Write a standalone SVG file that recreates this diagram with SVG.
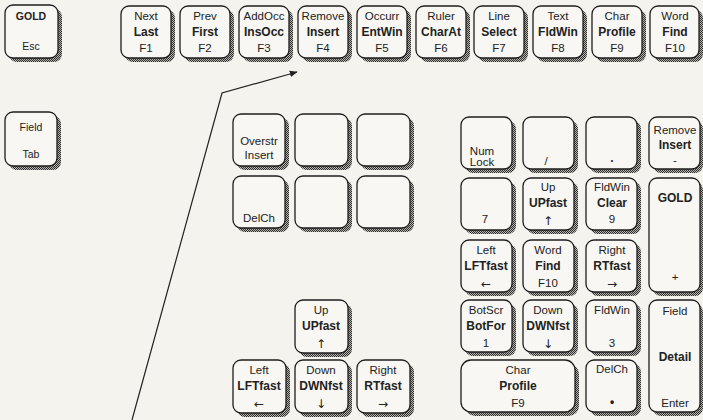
<svg xmlns="http://www.w3.org/2000/svg" width="703" height="420" viewBox="0 0 703 420">
<defs>
<pattern id="dots" width="2" height="2" patternUnits="userSpaceOnUse">
<rect width="2" height="2" fill="#b8b6b0"/>
<rect width="1" height="1" fill="#2e2e2e"/>
<rect x="1" y="1" width="1" height="1" fill="#2e2e2e"/>
</pattern>
<marker id="arr" viewBox="0 0 10 10" refX="9" refY="5" markerWidth="8" markerHeight="8" orient="auto" markerUnits="userSpaceOnUse">
<path d="M0,1 L10,5 L0,9 Z" fill="#222"/>
</marker>
</defs>
<style>
.sh{fill:url(#dots);}
.k{fill:#f8f7f3;stroke:#1e1e1e;stroke-width:1.3;}
text{font-family:"Liberation Sans",Arial,"DejaVu Sans",sans-serif;font-size:11.5px;fill:#222;text-anchor:middle;}
.b{font-weight:bold;font-size:12px;}
.s{font-size:10.5px;}
.ar{font-family:"DejaVu Sans",sans-serif;font-size:12px;}
.ln{fill:none;stroke:#222;stroke-width:1.2;}
</style>
<rect width="703" height="420" fill="#f5f3ee"/>

<!-- left keys -->
<g id="key-gold-esc"><rect class="sh" x="9" y="9" width="53" height="53" rx="8"/><rect class="k" x="5" y="5" width="53" height="53" rx="8"/><text class="b s" x="31" y="20">GOLD</text><text class="s" x="31" y="50">Esc</text></g>
<g id="key-field-tab"><rect class="sh" x="9" y="116" width="52" height="54" rx="8"/><rect class="k" x="5" y="112" width="52" height="54" rx="8"/><text class="s" x="31" y="131">Field</text><text class="s" x="31" y="158">Tab</text></g>

<!-- top row -->
<g id="key-f1"><rect class="sh" x="125" y="10" width="50" height="52" rx="8"/><rect class="k" x="121" y="6" width="50" height="52" rx="8"/><text x="146" y="20">Next</text><text class="b" x="146" y="36">Last</text><text x="146" y="52">F1</text></g>
<g id="key-f2"><rect class="sh" x="184" y="10" width="50" height="52" rx="8"/><rect class="k" x="180" y="6" width="50" height="52" rx="8"/><text x="205" y="20">Prev</text><text class="b" x="205" y="36">First</text><text x="205" y="52">F2</text></g>
<g id="key-f3"><rect class="sh" x="243" y="10" width="50" height="52" rx="8"/><rect class="k" x="239" y="6" width="50" height="52" rx="8"/><text x="264" y="20">AddOcc</text><text class="b" x="264" y="36">InsOcc</text><text x="264" y="52">F3</text></g>
<g id="key-f4"><rect class="sh" x="302" y="10" width="50" height="52" rx="8"/><rect class="k" x="298" y="6" width="50" height="52" rx="8"/><text x="323" y="20">Remove</text><text class="b" x="323" y="36">Insert</text><text x="323" y="52">F4</text></g>
<g id="key-f5"><rect class="sh" x="361" y="10" width="50" height="52" rx="8"/><rect class="k" x="357" y="6" width="50" height="52" rx="8"/><text x="382" y="20">Occurr</text><text class="b" x="382" y="36">EntWin</text><text x="382" y="52">F5</text></g>
<g id="key-f6"><rect class="sh" x="420" y="10" width="50" height="52" rx="8"/><rect class="k" x="416" y="6" width="50" height="52" rx="8"/><text x="441" y="20">Ruler</text><text class="b" x="441" y="36">CharAt</text><text x="441" y="52">F6</text></g>
<g id="key-f7"><rect class="sh" x="478" y="10" width="50" height="52" rx="8"/><rect class="k" x="474" y="6" width="50" height="52" rx="8"/><text x="499" y="20">Line</text><text class="b" x="499" y="36">Select</text><text x="499" y="52">F7</text></g>
<g id="key-f8"><rect class="sh" x="537" y="10" width="50" height="52" rx="8"/><rect class="k" x="533" y="6" width="50" height="52" rx="8"/><text x="558" y="20">Text</text><text class="b" x="558" y="36">FldWin</text><text x="558" y="52">F8</text></g>
<g id="key-f9"><rect class="sh" x="596" y="10" width="50" height="52" rx="8"/><rect class="k" x="592" y="6" width="50" height="52" rx="8"/><text x="617" y="20">Char</text><text class="b" x="617" y="36">Profile</text><text x="617" y="52">F9</text></g>
<g id="key-f10"><rect class="sh" x="654" y="10" width="49" height="52" rx="8"/><rect class="k" x="650" y="6" width="49" height="52" rx="8"/><text x="675" y="20">Word</text><text class="b" x="675" y="36">Find</text><text x="675" y="52">F10</text></g>

<!-- middle block -->
<g id="key-overstr"><rect class="sh" x="237" y="118" width="52" height="52" rx="8"/><rect class="k" x="233" y="114" width="52" height="52" rx="8"/><text x="259" y="145">Overstr</text><text x="259" y="159">Insert</text></g>
<g id="key-blank1"><rect class="sh" x="299" y="118" width="53" height="52" rx="8"/><rect class="k" x="295" y="114" width="53" height="52" rx="8"/></g>
<g id="key-blank2"><rect class="sh" x="361" y="118" width="53" height="52" rx="8"/><rect class="k" x="357" y="114" width="53" height="52" rx="8"/></g>
<g id="key-delch"><rect class="sh" x="237" y="180" width="52" height="52" rx="8"/><rect class="k" x="233" y="176" width="52" height="52" rx="8"/><text x="259" y="222">DelCh</text></g>
<g id="key-blank3"><rect class="sh" x="299" y="180" width="53" height="52" rx="8"/><rect class="k" x="295" y="176" width="53" height="52" rx="8"/></g>
<g id="key-blank4"><rect class="sh" x="361" y="180" width="53" height="52" rx="8"/><rect class="k" x="357" y="176" width="53" height="52" rx="8"/></g>

<!-- arrow cluster -->
<g id="key-up"><rect class="sh" x="299" y="304" width="53" height="53" rx="8"/><rect class="k" x="295" y="300" width="53" height="53" rx="8"/><text x="321" y="314">Up</text><text class="b" x="321" y="330">UPfast</text><text class="ar" x="321" y="348">↑</text></g>
<g id="key-left"><rect class="sh" x="237" y="364" width="53" height="53" rx="8"/><rect class="k" x="233" y="360" width="53" height="53" rx="8"/><text x="259" y="374">Left</text><text class="b" x="259" y="390">LFTfast</text><text class="ar" x="259" y="408">←</text></g>
<g id="key-down"><rect class="sh" x="299" y="364" width="53" height="53" rx="8"/><rect class="k" x="295" y="360" width="53" height="53" rx="8"/><text x="321" y="374">Down</text><text class="b" x="321" y="390">DWNfst</text><text class="ar" x="321" y="408">↓</text></g>
<g id="key-right"><rect class="sh" x="361" y="364" width="53" height="53" rx="8"/><rect class="k" x="357" y="360" width="53" height="53" rx="8"/><text x="383" y="374">Right</text><text class="b" x="383" y="390">RTfast</text><text class="ar" x="383" y="408">→</text></g>

<!-- keypad -->
<g id="key-numlock"><rect class="sh" x="465" y="121" width="51" height="52" rx="8"/><rect class="k" x="461" y="117" width="51" height="52" rx="8"/><text x="482" y="155">Num</text><text x="482" y="166">Lock</text></g>
<g id="key-slash"><rect class="sh" x="527" y="121" width="51" height="52" rx="8"/><rect class="k" x="523" y="117" width="51" height="52" rx="8"/><text x="546" y="165">/</text></g>
<g id="key-dot"><rect class="sh" x="590" y="121" width="51" height="52" rx="8"/><rect class="k" x="586" y="117" width="51" height="52" rx="8"/><text class="b" x="612" y="162">.</text></g>
<g id="key-remove"><rect class="sh" x="653" y="121" width="50" height="52" rx="8"/><rect class="k" x="649" y="117" width="51" height="52" rx="8"/><text x="675" y="134">Remove</text><text class="b" x="675" y="149">Insert</text><text x="675" y="164">-</text></g>

<g id="key-7"><rect class="sh" x="465" y="182" width="51" height="52" rx="8"/><rect class="k" x="461" y="178" width="51" height="52" rx="8"/><text x="485" y="223">7</text></g>
<g id="key-kp-up"><rect class="sh" x="527" y="182" width="51" height="52" rx="8"/><rect class="k" x="523" y="178" width="51" height="52" rx="8"/><text x="548" y="191">Up</text><text class="b" x="548" y="207">UPfast</text><text class="ar" x="548" y="225">↑</text></g>
<g id="key-9"><rect class="sh" x="590" y="182" width="51" height="52" rx="8"/><rect class="k" x="586" y="178" width="51" height="52" rx="8"/><text x="612" y="191">FldWin</text><text class="b" x="612" y="207">Clear</text><text x="612" y="223">9</text></g>
<g id="key-gold-plus"><rect class="sh" x="653" y="182" width="50" height="114" rx="8"/><rect class="k" x="649" y="178" width="51" height="114" rx="8"/><text class="b" x="675" y="202">GOLD</text><text x="675" y="281">+</text></g>

<g id="key-kp-left"><rect class="sh" x="465" y="244" width="51" height="52" rx="8"/><rect class="k" x="461" y="240" width="51" height="52" rx="8"/><text x="486" y="254">Left</text><text class="b" x="486" y="270">LFTfast</text><text class="ar" x="486" y="288">←</text></g>
<g id="key-kp-find"><rect class="sh" x="527" y="244" width="51" height="52" rx="8"/><rect class="k" x="523" y="240" width="51" height="52" rx="8"/><text x="548" y="254">Word</text><text class="b" x="548" y="270">Find</text><text x="548" y="287">F10</text></g>
<g id="key-kp-right"><rect class="sh" x="590" y="244" width="51" height="52" rx="8"/><rect class="k" x="586" y="240" width="51" height="52" rx="8"/><text x="612" y="254">Right</text><text class="b" x="612" y="270">RTfast</text><text class="ar" x="612" y="288">→</text></g>

<g id="key-1"><rect class="sh" x="465" y="304" width="51" height="52" rx="8"/><rect class="k" x="461" y="300" width="51" height="52" rx="8"/><text x="486" y="314">BotScr</text><text class="b" x="486" y="330">BotFor</text><text x="486" y="347">1</text></g>
<g id="key-kp-down"><rect class="sh" x="527" y="304" width="51" height="52" rx="8"/><rect class="k" x="523" y="300" width="51" height="52" rx="8"/><text x="548" y="314">Down</text><text class="b" x="548" y="330">DWNfst</text><text class="ar" x="548" y="348">↓</text></g>
<g id="key-3"><rect class="sh" x="590" y="304" width="51" height="52" rx="8"/><rect class="k" x="586" y="300" width="51" height="52" rx="8"/><text x="612" y="314">FldWin</text><text x="612" y="347">3</text></g>
<g id="key-enter"><rect class="sh" x="653" y="304" width="50" height="112" rx="8"/><rect class="k" x="649" y="300" width="51" height="112" rx="8"/><text x="675" y="315">Field</text><text class="b" x="675" y="361">Detail</text><text x="675" y="407">Enter</text></g>

<g id="key-char-profile"><rect class="sh" x="465" y="364" width="114" height="52" rx="10"/><rect class="k" x="461" y="360" width="114" height="52" rx="10"/><text x="518" y="374">Char</text><text class="b" x="518" y="390">Profile</text><text x="518" y="407">F9</text></g>
<g id="key-kp-delch"><rect class="sh" x="590" y="364" width="51" height="52" rx="8"/><rect class="k" x="586" y="360" width="51" height="52" rx="8"/><text x="612" y="373">DelCh</text><text class="b" x="612" y="406">•</text></g>

<g id="connectors">
<polyline class="ln" points="132,420 222,93 297,72" marker-end="url(#arr)"/>
</g>
</svg>
